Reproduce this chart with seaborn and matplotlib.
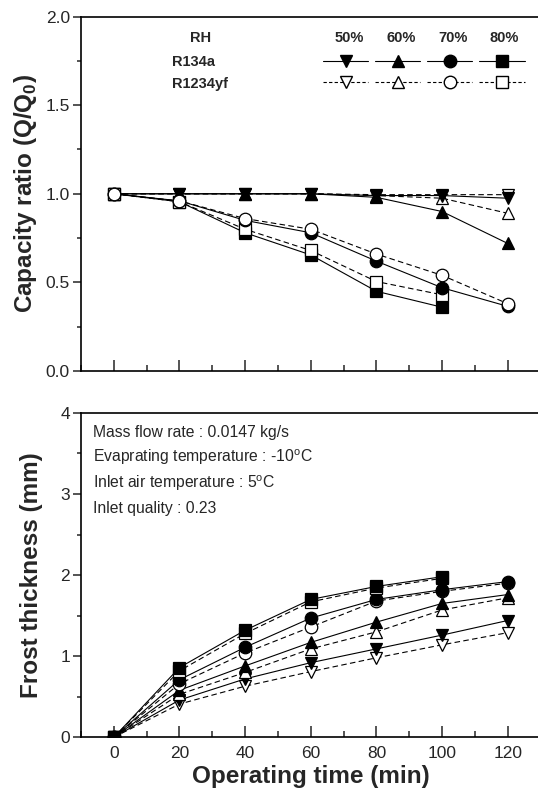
import numpy as np
import pandas as pd
import matplotlib
matplotlib.use("Agg")
import matplotlib.pyplot as plt
import seaborn as sns
from matplotlib.lines import Line2D
from matplotlib.ticker import MultipleLocator, FormatStrFormatter

# ===============================
# Data
# ===============================

time = [0, 20, 40, 60, 80, 100, 120]
time_80 = [0, 20, 40, 60, 80, 100]

# capacity ratio Q/Q0
cap_r134a_50 = [1.0, 1.0, 1.0, 1.0, 0.99, 0.99, 0.975]
cap_r1234yf_50 = [1.0, 1.0, 1.0, 1.0, 0.995, 0.995, 0.995]
cap_r134a_60 = [1.0, 1.0, 1.0, 1.0, 0.98, 0.90, 0.72]
cap_r1234yf_60 = [1.0, 1.0, 1.0, 1.0, 0.99, 0.975, 0.89]
cap_r134a_70 = [1.0, 0.96, 0.85, 0.78, 0.62, 0.47, 0.365]
cap_r1234yf_70 = [1.0, 0.96, 0.86, 0.80, 0.66, 0.54, 0.38]
cap_r134a_80 = [1.0, 0.955, 0.78, 0.655, 0.45, 0.36]
cap_r1234yf_80 = [1.0, 0.955, 0.80, 0.68, 0.505, 0.43]

# frost thickness (mm)
fr_r134a_50 = [0, 0.46, 0.72, 0.92, 1.09, 1.26, 1.44]
fr_r1234yf_50 = [0, 0.41, 0.63, 0.81, 0.98, 1.14, 1.29]
fr_r134a_60 = [0, 0.58, 0.88, 1.17, 1.42, 1.65, 1.76]
fr_r1234yf_60 = [0, 0.53, 0.80, 1.09, 1.30, 1.57, 1.72]
fr_r134a_70 = [0, 0.71, 1.11, 1.47, 1.70, 1.82, 1.92]
fr_r1234yf_70 = [0, 0.66, 1.04, 1.36, 1.68, 1.80, 1.90]
fr_r134a_80 = [0, 0.86, 1.32, 1.70, 1.86, 1.98]
fr_r1234yf_80 = [0, 0.82, 1.28, 1.67, 1.84, 1.96]

rh_labels = ["50%", "60%", "70%", "80%"]
markers = ["v", "^", "o", "s"]

notes = [
    "Mass flow rate : 0.0147 kg/s",
    r"Evaprating temperature : -10$^\mathrm{o}$C",
    r"Inlet air temperature : 5$^\mathrm{o}$C",
    "Inlet quality : 0.23",
]

# ===============================
# Style
# ===============================

sns.set_style("ticks")
plt.rcParams["font.family"] = ["Liberation Sans", "DejaVu Sans"]
plt.rcParams["mathtext.fontset"] = "custom"
plt.rcParams["mathtext.rm"] = "Liberation Sans"
plt.rcParams["mathtext.bf"] = "Liberation Sans:bold"
plt.rcParams["axes.linewidth"] = 1.2

fig = plt.figure(figsize=(5.38, 7.95), dpi=100)
ax1 = fig.add_axes([0.1506, 0.5333, 0.854, 0.4459])
ax2 = fig.add_axes([0.1506, 0.0726, 0.854, 0.408])


def draw(ax, x, y, marker, filled, ms=9):
    sns.lineplot(
        x=x, y=y, ax=ax, color="black", lw=0.8,
        linestyle="-" if filled else (0, (5, 3)),
        marker=marker, markersize=ms,
        markerfacecolor="black" if filled else "white",
        markeredgecolor="black", markeredgewidth=0.9,
    )


# ===============================
# Top panel: capacity ratio
# ===============================

top_series = [
    (time, cap_r1234yf_50, "v", False),
    (time, cap_r1234yf_60, "^", False),
    (time, cap_r134a_50, "v", True),
    (time, cap_r134a_60, "^", True),
    (time_80, cap_r134a_80, "s", True),
    (time_80, cap_r1234yf_80, "s", False),
    (time, cap_r134a_70, "o", True),
    (time, cap_r1234yf_70, "o", False),
]
for x, y, m, f in top_series:
    draw(ax1, x, y, m, f, ms=8 if m == "s" else 9)

ax1.set_ylim(0, 2.0)
ax1.yaxis.set_major_locator(MultipleLocator(0.5))
ax1.yaxis.set_minor_locator(MultipleLocator(0.25))
ax1.yaxis.set_major_formatter(FormatStrFormatter("%.1f"))
ax1.set_ylabel(r"Capacity ratio (Q/Q$_\mathbf{0}$)", fontsize=17.5, fontweight="bold", labelpad=5)
ax1.tick_params(axis="x", labelbottom=False)

# legend block
handles = []
for m in markers:
    ms = 8 if m == "s" else 9
    handles.append(Line2D([], [], color="black", lw=0.8, marker=m, markersize=ms,
                          markerfacecolor="black", markeredgecolor="black"))
    handles.append(Line2D([], [], color="black", lw=0.8, linestyle=(0, (3, 2)), marker=m,
                          markersize=ms, markerfacecolor="white", markeredgecolor="black"))
ax1.legend(handles, [""] * 8, ncol=4, loc="upper left", bbox_to_anchor=(0.527, 0.893),
           frameon=False, fontsize=10, handlelength=3.25, handletextpad=0,
           columnspacing=0.5, labelspacing=0.55, borderpad=0, borderaxespad=0)

for i, lab in enumerate(rh_labels):
    ax1.text(0.584 + i * 0.1125, 0.94, lab, transform=ax1.transAxes, ha="center",
             va="center", fontsize=10.5, fontweight="bold")
ax1.text(0.26, 0.94, "RH", transform=ax1.transAxes, ha="center", va="center",
         fontsize=10.5, fontweight="bold")
ax1.text(0.199, 0.871, "R134a", transform=ax1.transAxes, ha="left", va="center",
         fontsize=10.5, fontweight="bold")
ax1.text(0.199, 0.811, "R1234yf", transform=ax1.transAxes, ha="left", va="center",
         fontsize=10.5, fontweight="bold")

# ===============================
# Bottom panel: frost thickness
# ===============================

bottom_series = [
    (time, fr_r1234yf_50, "v", False),
    (time, fr_r134a_50, "v", True),
    (time, fr_r1234yf_60, "^", False),
    (time, fr_r134a_60, "^", True),
    (time, fr_r1234yf_70, "o", False),
    (time, fr_r134a_70, "o", True),
    (time_80, fr_r1234yf_80, "s", False),
    (time_80, fr_r134a_80, "s", True),
]
for x, y, m, f in bottom_series:
    draw(ax2, x, y, m, f, ms=8 if m == "s" else 9)

ax2.set_ylim(0, 4)
ax2.yaxis.set_major_locator(MultipleLocator(1))
ax2.yaxis.set_minor_locator(MultipleLocator(0.5))
ax2.set_ylabel("Frost thickness (mm)", fontsize=17.5, fontweight="bold", labelpad=12)
ax2.set_xlabel("Operating time (min)", fontsize=17.5, fontweight="bold", labelpad=3)

for i, line in enumerate(notes):
    ax2.text(0.026, 0.94 - i * 0.078, line, transform=ax2.transAxes, ha="left",
             va="center", fontsize=11.3)

# ===============================
# Shared axis formatting
# ===============================

for ax in (ax1, ax2):
    ax.set_xlim(-10, 130)
    ax.xaxis.set_major_locator(MultipleLocator(20))
    ax.xaxis.set_minor_locator(MultipleLocator(10))
    ax.tick_params(axis="x", which="major", direction="in", length=8, width=1.1,
                   labelsize=12.5, pad=6)
    ax.tick_params(axis="x", which="minor", direction="in", length=4.5, width=1.1)
    ax.tick_params(axis="y", which="major", direction="out", length=6, width=1.1,
                   labelsize=12.5, pad=2)
    ax.tick_params(axis="y", which="minor", direction="out", length=3, width=1.1)
    for s in ax.spines.values():
        s.set_visible(True)
        s.set_color("black")

fig.savefig("out.png", dpi=100)
